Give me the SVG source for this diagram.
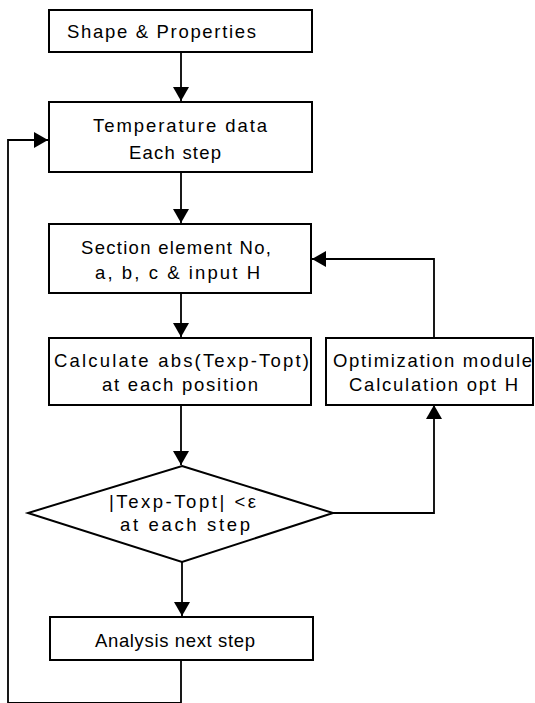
<svg xmlns="http://www.w3.org/2000/svg" width="535" height="703" viewBox="0 0 535 703">
<style>
.box{fill:#fff;stroke:#000;stroke-width:2}
.con{fill:none;stroke:#000;stroke-width:1.8}
text{font-family:"Liberation Sans",Arial,sans-serif;font-size:18.5px;fill:#000;text-anchor:middle}
</style>
<defs>
<marker id="ah" markerUnits="userSpaceOnUse" markerWidth="16" markerHeight="16" viewBox="0 0 14 16" refX="14" refY="8" orient="auto">
<path d="M0,0 L14,8 L0,16 Z" fill="#000"/>
</marker>
</defs>
<rect width="535" height="703" fill="#fff"/>
<g id="connectors">
<path class="con" d="M181,52 V101" marker-end="url(#ah)"/>
<path class="con" d="M181,172 V223" marker-end="url(#ah)"/>
<path class="con" d="M181,293 V337" marker-end="url(#ah)"/>
<path class="con" d="M181,405 V465" marker-end="url(#ah)"/>
<path class="con" d="M182,562 V616" marker-end="url(#ah)"/>
<path class="con" d="M434,338 V259 H312" marker-end="url(#ah)"/>
<path class="con" d="M333,513 H434 V405" marker-end="url(#ah)"/>
<path class="con" d="M181,660 V703 H8 V140 H48" marker-end="url(#ah)"/>
</g>
<g id="shape">
<rect class="box" x="49" y="10" width="263" height="42"/>
<text x="161.5" y="38" textLength="189" lengthAdjust="spacing">Shape &amp; Properties</text>
</g>
<g id="temperature">
<rect class="box" x="49" y="102" width="263" height="70"/>
<text x="180" y="132" textLength="174" lengthAdjust="spacing">Temperature data</text>
<text x="175" y="159" textLength="92" lengthAdjust="spacing">Each step</text>
</g>
<g id="section">
<rect class="box" x="49" y="224" width="262" height="69"/>
<text x="176" y="254" textLength="190" lengthAdjust="spacing">Section element No,</text>
<text x="177.5" y="279" textLength="165" lengthAdjust="spacing">a, b, c &amp; input H</text>
</g>
<g id="calculate">
<rect class="box" x="49" y="338" width="262" height="67"/>
<text x="181.5" y="367" textLength="255" lengthAdjust="spacing">Calculate abs(Texp-Topt)</text>
<text x="180" y="391" textLength="156" lengthAdjust="spacing">at each position</text>
</g>
<g id="optimization">
<rect class="box" x="326" y="338" width="207" height="67"/>
<text x="432.5" y="367" textLength="199" lengthAdjust="spacing">Optimization module</text>
<text x="433.5" y="391" textLength="169" lengthAdjust="spacing">Calculation opt H</text>
</g>
<g id="decision">
<polygon class="box" points="182,466 333,513 182,562 28,513"/>
<text x="182.5" y="508" textLength="147" lengthAdjust="spacing">|Texp-Topt| &lt;ε</text>
<text x="185" y="531" textLength="130" lengthAdjust="spacing">at each step</text>
</g>
<g id="analysis">
<rect class="box" x="50" y="617" width="263" height="43"/>
<text x="175" y="647" textLength="160" lengthAdjust="spacing">Analysis next step</text>
</g>
</svg>
